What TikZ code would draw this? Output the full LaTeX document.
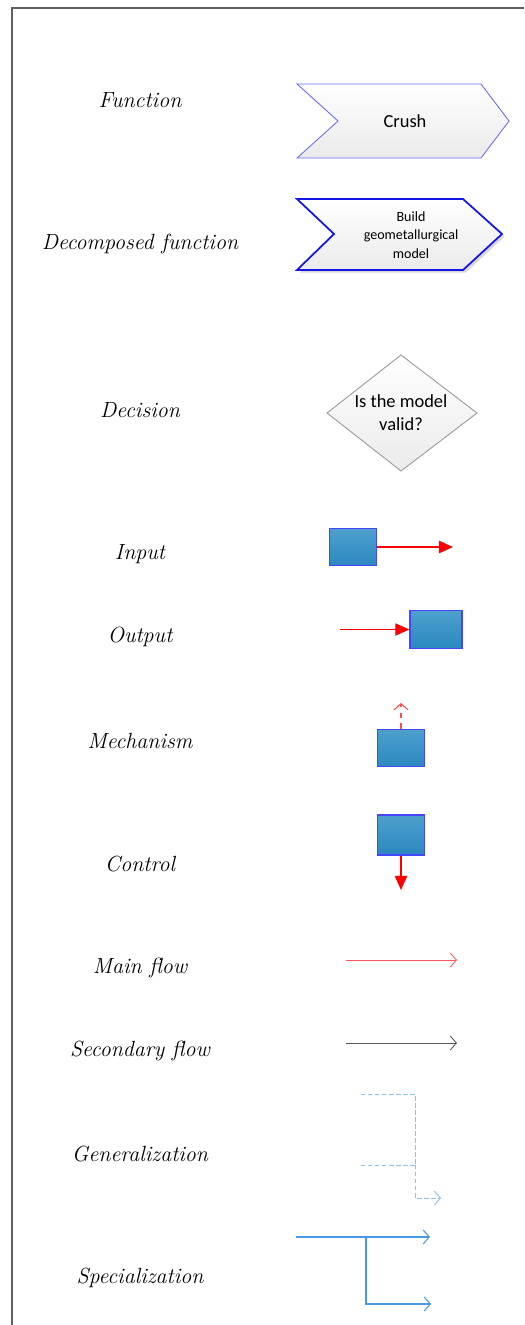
\documentclass[tikz,border=0pt]{standalone}
\usepackage{fontspec}
\newfontfamily\calibri{Carlito}
\usetikzlibrary{arrows.meta,shadows}

\definecolor{framegray}{RGB}{95,95,95}
\definecolor{edgeblue}{RGB}{70,70,255}
\definecolor{deepblue}{RGB}{20,20,230}
\definecolor{boxtop}{RGB}{78,160,204}
\definecolor{boxbot}{RGB}{42,136,192}
\definecolor{linkblue}{RGB}{72,152,226}
\definecolor{genblue}{RGB}{140,192,236}

\tikzset{
  legend/.style={font=\fontsize{12.5}{15}\selectfont\itshape},
  label/.style={font=\calibri, align=center, inner sep=0pt},
  chevron/.style={top color=white, bottom color=gray!16, draw=edgeblue!80, line width=0.5pt},
  unit/.style={draw=edgeblue, line width=0.8pt, top color=boxtop, bottom color=boxbot,
               minimum width=0.95cm, minimum height=0.75cm, inner sep=0pt},
  fill tip/.style={-{Triangle[length=8pt,width=7pt]}},
  open tip/.style={-{Straight Barb[length=3.5pt,width=8pt]}}
}

\begin{document}
\begin{tikzpicture}[x=0.02cm,y=-0.02cm]
\useasboundingbox (0,0) rectangle (524,1325);
\draw [framegray, line width=1.3pt] (12,1325) -- (12,8) -- (524,8);

% left column
\node[legend] (lfun)  at (140,100)  {Function};
\node[legend] (ldfun) at (140,244)  {Decomposed function};
\node[legend] (ldec)  at (140,410)  {Decision};
\node[legend] (lin)   at (140,554)  {Input};
\node[legend] (lout)  at (140,637)  {Output};
\node[legend] (lmech) at (140,741)  {Mechanism};
\node[legend] (lctrl) at (140,864)  {Control};
\node[legend] (lmain) at (140,968)  {Main flow};
\node[legend] (lsec)  at (140,1051) {Secondary flow};
\node[legend] (lgen)  at (140,1154) {Generalization};
\node[legend] (lspec) at (140,1278) {Specialization};

% function and decomposed function
\draw [chevron] (297,84) -- (481,84) -- (509,121) -- (481,158) -- (297,158) -- (338,121) -- cycle;
\node[label, font=\calibri\fontsize{10.5}{12}\selectfont] (crush) at (405,121) {Crush};
\draw [chevron, draw=deepblue, line width=1pt,
       drop shadow={opacity=0.3, shadow xshift=1.5pt, shadow yshift=-1.5pt}]
  (297,199) -- (463,199) -- (502,234) -- (463,270) -- (297,270) -- (334,234) -- cycle;
\node[label, font=\calibri\fontsize{8}{10.5}\selectfont] (build) at (411,235) {Build\\geometallurgical\\model};

% decision
\draw [top color=white, bottom color=gray!16, draw=gray!80, line width=0.5pt]
  (401,355) -- (477,413) -- (401,471) -- (327,413) -- cycle;
\node[label, font=\calibri\fontsize{10.5}{13}\selectfont] (valid) at (401,413) {Is the model\\valid?};

% input, output, mechanism, control
\node[unit, minimum width=0.94cm] (inbox) at (353,547) {};
\coordinate (inend) at (453,547);
\draw [red, line width=0.9pt, fill tip] (inbox.east) -- (inend);

\node[unit, minimum width=1.04cm] (outbox) at (436,629.5) {};
\coordinate (outstart) at (340,629.5);
\draw [red, line width=0.6pt, fill tip] (outstart) -- (outbox.west);

\node[unit] (mechbox) at (401,748) {};
\coordinate (mechend) at (401,703);
\draw [red!70, line width=0.6pt, dashed, open tip] (mechbox.north) -- (mechend);

\node[unit, minimum height=0.8cm] (ctrlbox) at (401,835) {};
\coordinate (ctrlend) at (401,890);
\draw [red, line width=0.6pt, fill tip] (ctrlbox.south) -- (ctrlend);

% flows
\coordinate (main1) at (346,960);
\coordinate (main2) at (457,960);
\draw [red!65, line width=0.5pt, open tip] (main1) -- (main2);
\coordinate (sec1) at (346,1043);
\coordinate (sec2) at (457,1043);
\draw [black!65, line width=0.5pt, open tip] (sec1) -- (sec2);

% generalization
\coordinate (gen1) at (361,1094);
\coordinate (gen2) at (415,1094);
\coordinate (gen3) at (361,1165);
\coordinate (gen4) at (415,1165);
\coordinate (gen5) at (415,1198);
\coordinate (gen6) at (441,1198);
\draw [genblue, line width=0.5pt, dash pattern=on 2.5pt off 1.5pt] (gen1) -- (gen2) -- (gen4);
\draw [genblue, line width=0.5pt, dash pattern=on 2.5pt off 1.5pt] (gen3) -- (gen4);
\draw [genblue, line width=0.5pt, dash pattern=on 2.5pt off 1.5pt, open tip] (gen4) -- (gen5) -- (gen6);

% specialization
\coordinate (spec1) at (296,1237);
\coordinate (spec2) at (430,1237);
\coordinate (spec3) at (366,1237);
\coordinate (spec4) at (366,1304);
\coordinate (spec5) at (431,1304);
\draw [linkblue, line width=0.6pt, open tip] (spec1) -- (spec2);
\draw [linkblue, line width=0.6pt, open tip] (spec3) -- (spec4) -- (spec5);
\end{tikzpicture}
\end{document}
